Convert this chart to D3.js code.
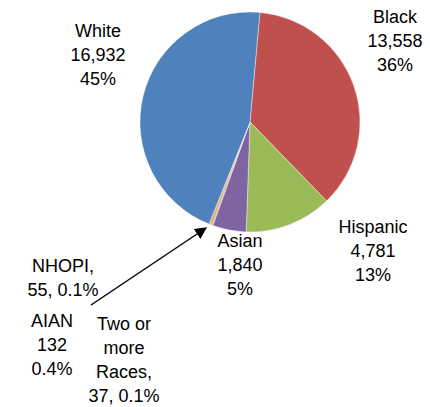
<!DOCTYPE html>
<html><head><meta charset="utf-8">
<script src="https://cdn.jsdelivr.net/npm/d3@7"></script>
<style>body{margin:0;background:#fff}text{font-family:"Liberation Sans",Arial,sans-serif;font-size:18px;fill:#000}</style>
</head><body><svg id="c" width="430" height="407"></svg>
<script>
const categories = ["Black", "Hispanic", "Asian", "NHOPI", "AIAN", "Two or more Races", "White"];
const values = [13558, 4781, 1840, 55, 132, 37, 16932];
const colors = ["#c0504d", "#9bbb59", "#8064a2", "#4bacc6", "#f79646", "#2c4d75", "#4f81bd"];
const labels = [
  {lines: ["Black", "13,558", "36%"], x: 395, y: 23},
  {lines: ["Hispanic", "4,781", "13%"], x: 373, y: 233},
  {lines: ["Asian", "1,840", "5%"], x: 240, y: 247},
  {lines: ["NHOPI,", "55, 0.1%"], x: 63, y: 272},
  {lines: ["AIAN", "132", "0.4%"], x: 52, y: 327},
  {lines: ["Two or", "more", "Races,", "37, 0.1%"], x: 124, y: 330},
  {lines: ["White", "16,932", "45%"], x: 98, y: 37}
];

const svg = d3.select("#c");
const cx = 250, cy = 122, r = 110;
const pie = d3.pie().sort(null).startAngle(0.09).endAngle(0.09 + 2 * Math.PI);
const arc = d3.arc().innerRadius(0).outerRadius(r);
const g = svg.append("g").attr("transform", `translate(${cx},${cy})`);
g.selectAll("path").data(pie(values)).join("path")
  .attr("d", arc).attr("fill", (d, i) => colors[i])
  .attr("stroke", "#fff").attr("stroke-width", 0.4);

svg.append("defs").append("marker").attr("id", "ah").attr("viewBox", "0 0 10 10")
  .attr("refX", 9).attr("refY", 5).attr("markerWidth", 8).attr("markerHeight", 8)
  .attr("orient", "auto").append("path").attr("d", "M0,0L10,5L0,10z").attr("fill", "#000");
svg.append("line").attr("x1", 91).attr("y1", 305).attr("x2", 206).attr("y2", 228)
  .attr("stroke", "#000").attr("stroke-width", 1.5).attr("marker-end", "url(#ah)");

labels.forEach(l => {
  const t = svg.append("text").attr("text-anchor", "middle");
  l.lines.forEach((s, k) => t.append("tspan").attr("x", l.x).attr("y", l.y + k * 24).text(s));
});
</script></body></html>
